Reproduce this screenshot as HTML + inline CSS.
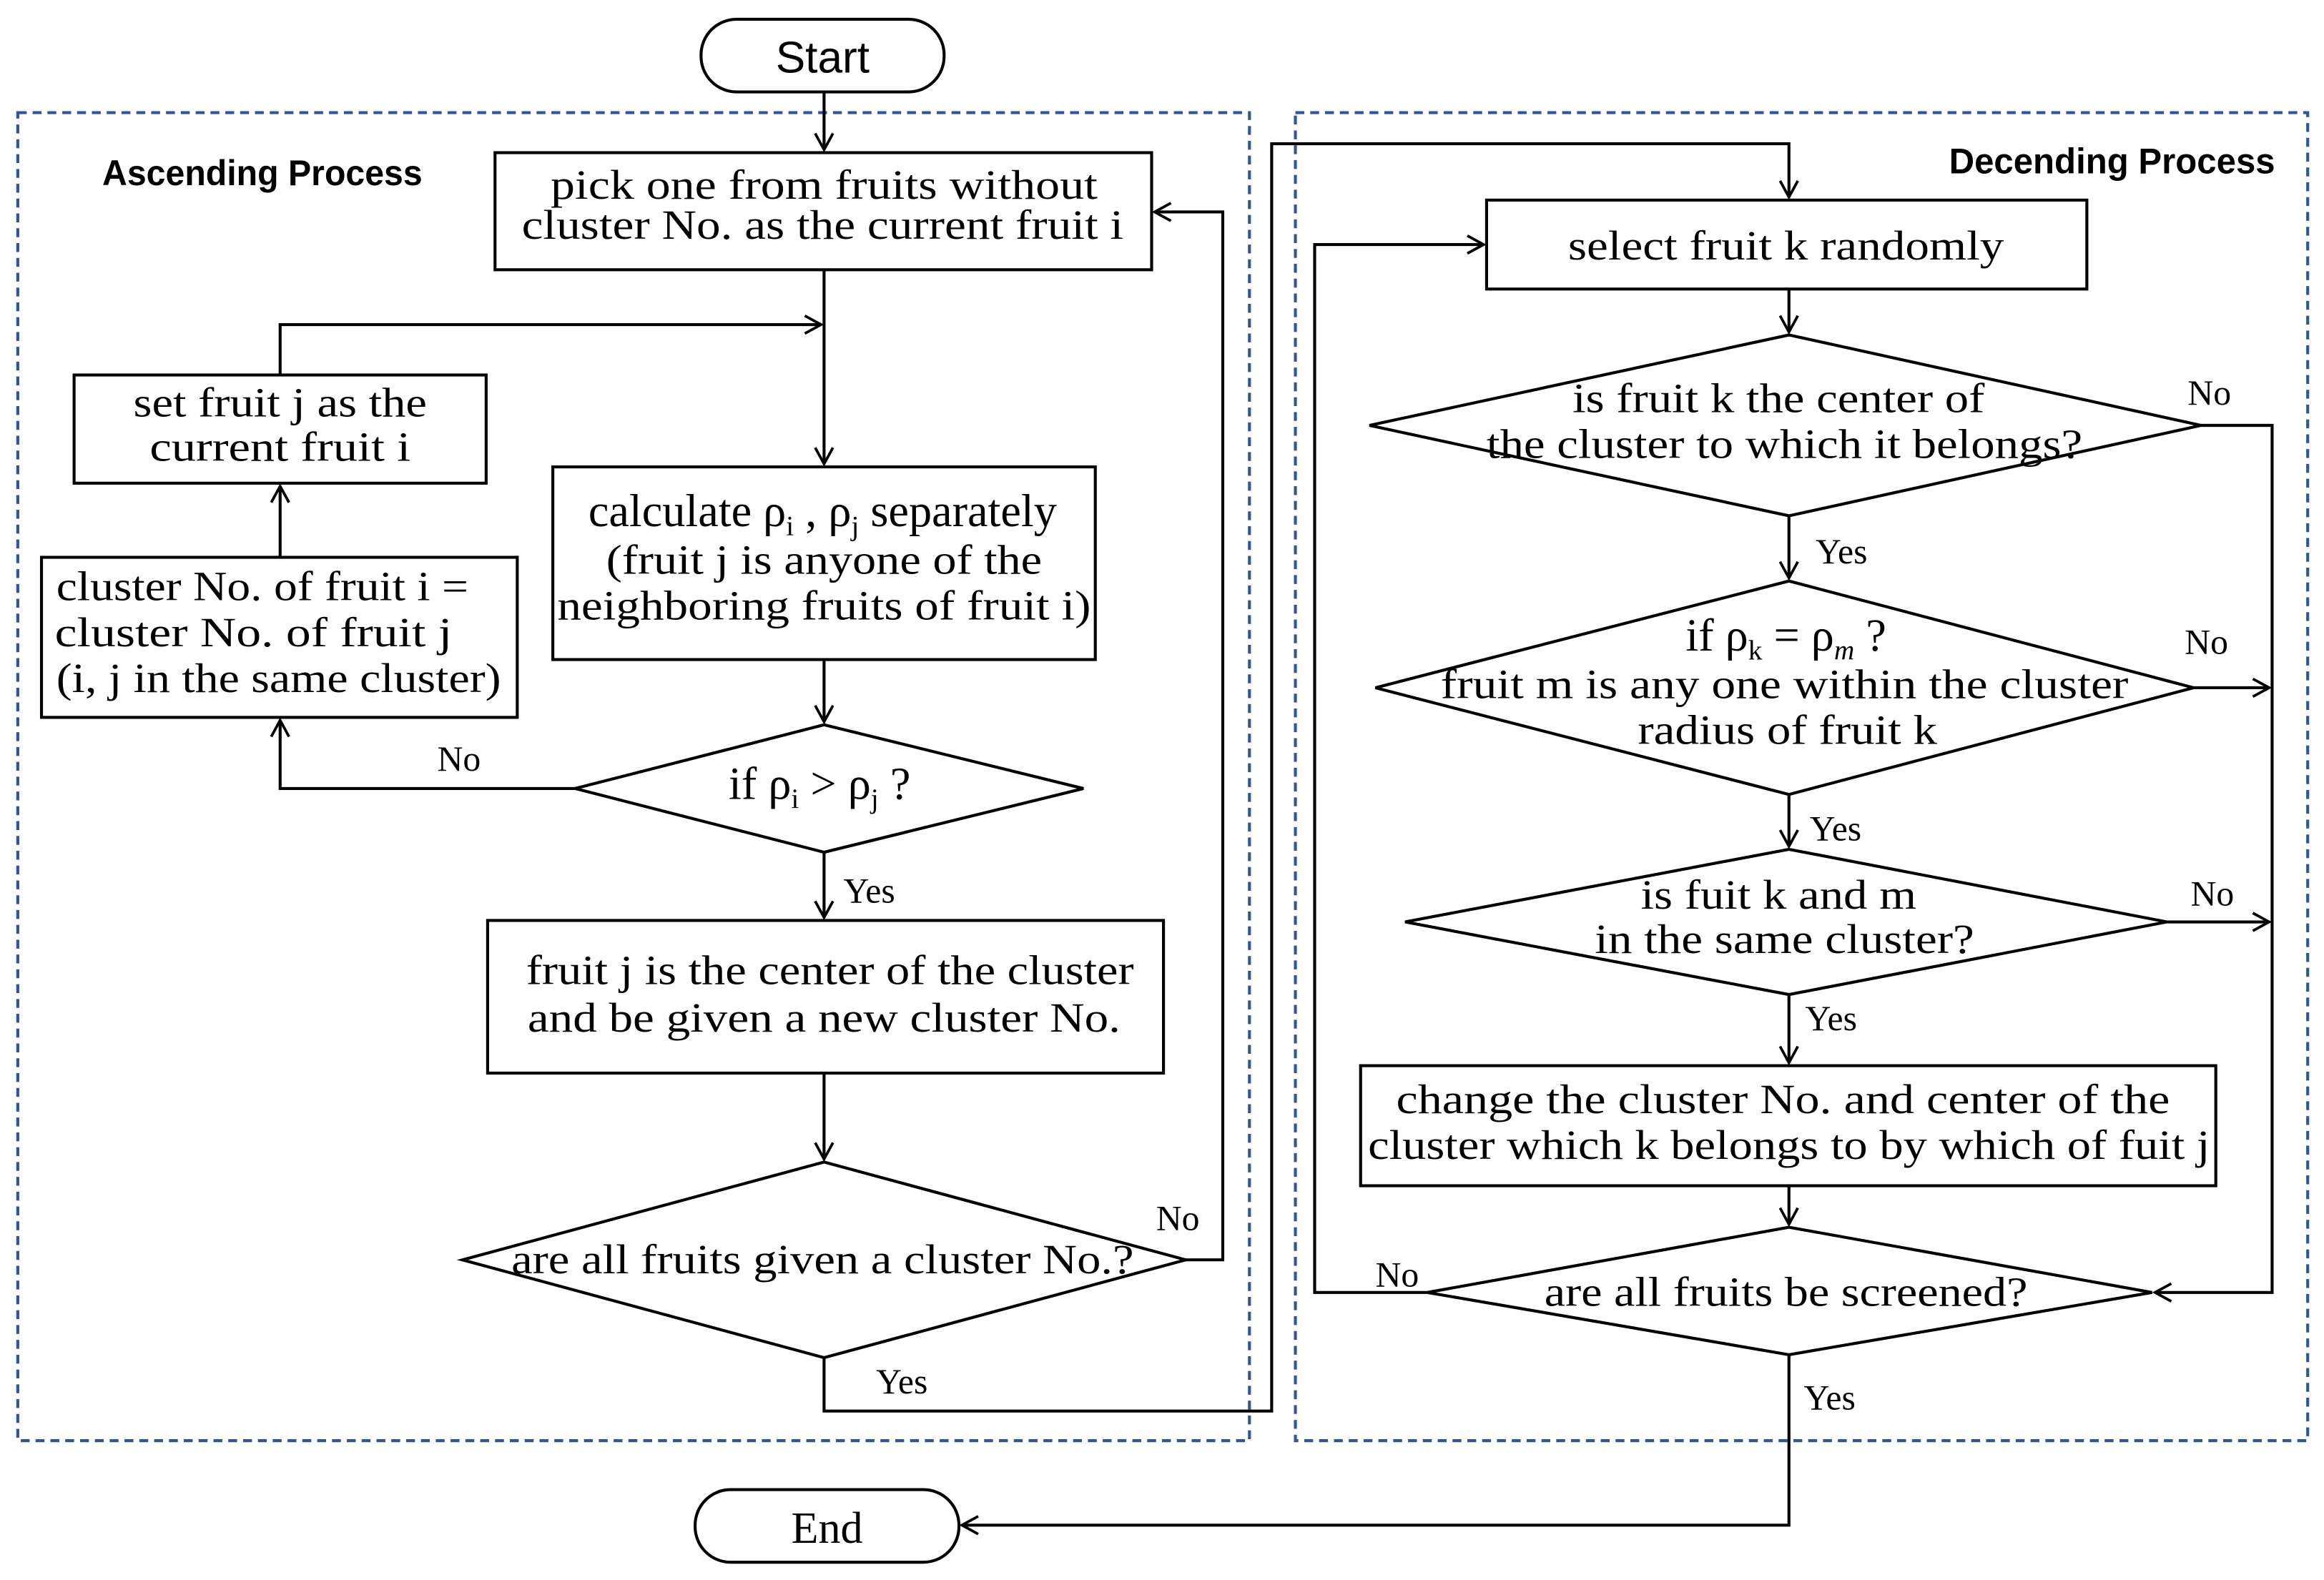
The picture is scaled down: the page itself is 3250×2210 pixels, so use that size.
<!DOCTYPE html>
<html><head><meta charset="utf-8"><style>
html,body{margin:0;padding:0;background:#fff;}
svg{display:block;}
text{font-family:"Liberation Serif",serif;fill:#000;}
.s{font-family:"Liberation Sans",sans-serif;font-weight:bold;}
.ss{font-family:"Liberation Sans",sans-serif;}
</style></head><body>
<svg width="3250" height="2210" viewBox="0 0 1568 1066" preserveAspectRatio="none" xmlns="http://www.w3.org/2000/svg">
<defs>
<marker id="a" markerWidth="14" markerHeight="14" refX="12" refY="7" orient="auto" markerUnits="userSpaceOnUse">
<path d="M1,1 L12,7 L1,13" fill="none" stroke="#000" stroke-width="1.8"/></marker>
</defs>
<rect width="1568" height="1066" fill="#fff"/>
<g fill="none" stroke="#2e55a0" stroke-width="2" stroke-dasharray="6,4">
<rect x="12" y="76" width="831" height="896"/>
<rect x="874" y="76" width="683" height="896"/>
</g>
<g fill="none" stroke="#000" stroke-width="2">
<rect x="473" y="13" width="164" height="49" rx="24"/>
<rect x="469" y="1005" width="178" height="49" rx="24"/>
<rect x="334" y="103" width="443" height="79"/>
<rect x="50" y="253" width="278" height="73"/>
<rect x="28" y="376" width="321" height="108"/>
<rect x="373" y="315" width="366" height="130"/>
<rect x="329" y="621" width="456" height="103"/>
<rect x="1003" y="135" width="405" height="60"/>
<rect x="918" y="719" width="577" height="81"/>
<polygon points="388,532 556,489 731,532 556,575"/>
<polygon points="312,850 556,784 800,850 556,916"/>
<polygon points="924,287 1207,226 1485,287 1207,348"/>
<polygon points="928,464 1207,392 1480,464 1207,536"/>
<polygon points="948,622 1207,573 1462,622 1207,671"/>
<polygon points="963,872 1207,828 1452,872 1207,914"/>
</g>
<g fill="none" stroke="#000" stroke-width="2">
<path d="M556,62 V101" marker-end="url(#a)"/>
<path d="M556,182 V313" marker-end="url(#a)"/>
<path d="M189,253 V219 H554" marker-end="url(#a)"/>
<path d="M189,376 V328" marker-end="url(#a)"/>
<path d="M556,445 V487" marker-end="url(#a)"/>
<path d="M388,532 H189 V486" marker-end="url(#a)"/>
<path d="M556,575 V619" marker-end="url(#a)"/>
<path d="M556,724 V782" marker-end="url(#a)"/>
<path d="M800,850 H825 V143 H779" marker-end="url(#a)"/>
<path d="M556,916 V952 H858 V97 H1207 V133" marker-end="url(#a)"/>
<path d="M1207,195 V224" marker-end="url(#a)"/>
<path d="M1485,287 H1533 V872 H1454" marker-end="url(#a)"/>
<path d="M1207,348 V390" marker-end="url(#a)"/>
<path d="M1480,464 H1531" marker-end="url(#a)"/>
<path d="M1207,536 V571" marker-end="url(#a)"/>
<path d="M1462,622 H1531" marker-end="url(#a)"/>
<path d="M1207,671 V717" marker-end="url(#a)"/>
<path d="M1207,800 V826" marker-end="url(#a)"/>
<path d="M963,872 H887 V165 H1001" marker-end="url(#a)"/>
<path d="M1207,914 V1029 H649" marker-end="url(#a)"/>
</g>
<text class="s" x="69" y="125" font-size="24" textLength="216" lengthAdjust="spacingAndGlyphs">Ascending Process</text>
<text class="s" x="1535" y="117" font-size="24" text-anchor="end" textLength="220" lengthAdjust="spacingAndGlyphs">Decending Process</text>
<g font-size="30" text-anchor="middle">
<text class="ss" x="555" y="49">Start</text>
<text x="558" y="1041">End</text>
</g>
<g font-size="28" text-anchor="middle">
<text x="556" y="134" textLength="369" lengthAdjust="spacingAndGlyphs">pick one from fruits without</text>
<text x="555" y="161" textLength="406" lengthAdjust="spacingAndGlyphs">cluster No. as the current fruit i</text>
<text x="189" y="281" textLength="198" lengthAdjust="spacingAndGlyphs">set fruit j as the</text>
<text x="189" y="311" textLength="176" lengthAdjust="spacingAndGlyphs">current fruit i</text>
<text x="177" y="405" textLength="278" lengthAdjust="spacingAndGlyphs">cluster No. of fruit i =</text>
<text x="171" y="436" textLength="268" lengthAdjust="spacingAndGlyphs">cluster No. of fruit j</text>
<text x="188" y="467" textLength="300" lengthAdjust="spacingAndGlyphs">(i, j in the same cluster)</text>
<text x="555" y="355" font-size="31">calculate ρ<tspan font-size="19" dy="6">i</tspan><tspan dy="-6"> , ρ</tspan><tspan font-size="19" dy="6">j</tspan><tspan dy="-6"> separately</tspan></text>
<text x="556" y="387" textLength="294" lengthAdjust="spacingAndGlyphs">(fruit j is anyone of the</text>
<text x="556" y="418" textLength="360" lengthAdjust="spacingAndGlyphs">neighboring fruits of fruit i)</text>
<text x="553" y="539" font-size="31">if ρ<tspan font-size="19" dy="6">i</tspan><tspan dy="-6">  &gt;  ρ</tspan><tspan font-size="19" dy="6">j</tspan><tspan dy="-6"> ?</tspan></text>
<text x="560" y="664" textLength="410" lengthAdjust="spacingAndGlyphs">fruit j is the center of the cluster</text>
<text x="556" y="696" textLength="400" lengthAdjust="spacingAndGlyphs">and be given a new cluster No.</text>
<text x="555" y="859" textLength="420" lengthAdjust="spacingAndGlyphs">are all fruits given a cluster No.?</text>
<text x="1205" y="175" textLength="294" lengthAdjust="spacingAndGlyphs">select fruit k randomly</text>
<text x="1200" y="278" textLength="278" lengthAdjust="spacingAndGlyphs">is fruit k the center of</text>
<text x="1204" y="309" textLength="402" lengthAdjust="spacingAndGlyphs">the cluster to which it belongs?</text>
<text x="1205" y="439" font-size="31">if  ρ<tspan font-size="19" dy="6">k</tspan><tspan dy="-6"> = ρ</tspan><tspan font-size="19" dy="6" font-style="italic">m</tspan><tspan dy="-6"> ?</tspan></text>
<text x="1204" y="471" textLength="464" lengthAdjust="spacingAndGlyphs">fruit m is any one within the cluster</text>
<text x="1206" y="502" textLength="202" lengthAdjust="spacingAndGlyphs">radius of fruit k</text>
<text x="1200" y="613" textLength="186" lengthAdjust="spacingAndGlyphs">is fuit k and m</text>
<text x="1204" y="643" textLength="256" lengthAdjust="spacingAndGlyphs">in the same cluster?</text>
<text x="1203" y="751" textLength="522" lengthAdjust="spacingAndGlyphs">change the cluster No. and  center of the</text>
<text x="1207" y="782" textLength="568" lengthAdjust="spacingAndGlyphs">cluster which k belongs to by which of fuit j</text>
<text x="1205" y="881" textLength="326" lengthAdjust="spacingAndGlyphs">are all fruits be screened?</text>
</g>
<g font-size="24">
<text x="295" y="520">No</text>
<text x="569" y="609">Yes</text>
<text x="780" y="830">No</text>
<text x="591" y="940">Yes</text>
<text x="1476" y="273">No</text>
<text x="1225" y="380">Yes</text>
<text x="1474" y="441">No</text>
<text x="1221" y="567">Yes</text>
<text x="1478" y="611">No</text>
<text x="1218" y="695">Yes</text>
<text x="928" y="868">No</text>
<text x="1217" y="951">Yes</text>
</g>
</svg>
</body></html>
